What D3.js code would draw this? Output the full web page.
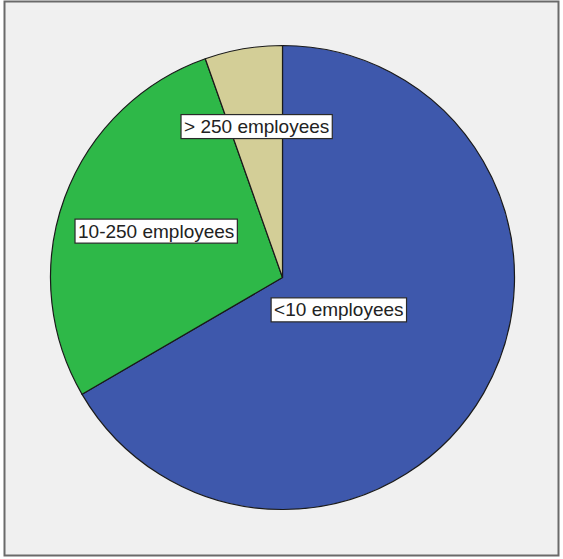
<!DOCTYPE html>
<html>
<head>
<meta charset="utf-8">
<script src="https://cdn.jsdelivr.net/npm/d3@7"></script>
<style>
  html, body { margin: 0; padding: 0; background: #ffffff; }
  svg { display: block; }
</style>
</head>
<body>
<svg id="chart" width="563" height="559"></svg>
<script>
// ---- data ----
const categories = ["<10 employees", "10-250 employees", "> 250 employees"];
const values = [66.6, 28.0, 5.4];
const colors = ["#3E58AC", "#2EB848", "#D3CE97"];

// ---- layout ----
const W = 563, H = 559;
const cx = 282.5, cy = 277.5, R = 232;
const labelRadiusFactor = [0.28, 0.58, 0.66];

const svg = d3.select("#chart");

// background & frame
svg.append("rect").attr("x", 0).attr("y", 0).attr("width", W).attr("height", H).attr("fill", "#ffffff");
svg.append("rect")
  .attr("x", 4.5).attr("y", 1.5).attr("width", 554).attr("height", 554)
  .attr("fill", "#F0F0F0").attr("stroke", "#6a6a6a").attr("stroke-width", 2);

const data = categories.map((c, i) => ({ cat: c, value: values[i], color: colors[i], i }));

const pie = d3.pie().sort(null).value(d => d.value);
const arcs = pie(data);
const arc = d3.arc().innerRadius(0).outerRadius(R);

const g = svg.append("g").attr("transform", `translate(${cx},${cy})`);

g.selectAll("path.slice")
  .data(arcs)
  .join("path")
  .attr("class", "slice")
  .attr("d", arc)
  .attr("fill", d => d.data.color)
  .attr("stroke", "#1a1a1a")
  .attr("stroke-width", 1.2)
  .attr("stroke-linejoin", "round");

// labels
const lg = g.selectAll("g.lbl")
  .data(arcs)
  .join("g")
  .attr("class", "lbl")
  .attr("transform", d => {
    const r = R * labelRadiusFactor[d.data.i];
    const c = d3.arc().innerRadius(r).outerRadius(r).centroid(d);
    return `translate(${c[0]},${c[1]})`;
  });

lg.each(function(d) {
  const sel = d3.select(this);
  const rect = sel.append("rect");
  const t = sel.append("text")
    .attr("x", 0).attr("y", 0)
    .attr("text-anchor", "middle")
    .attr("dominant-baseline", "central")
    .attr("font-family", "'Liberation Sans', Arial, sans-serif")
    .attr("font-size", 19)
    .attr("fill", "#222")
    .text(d.data.cat);
  const w = t.node().getComputedTextLength();
  const bw = w + 6, bh = 24;
  rect.attr("x", -bw / 2).attr("y", -bh / 2)
    .attr("width", bw).attr("height", bh)
    .attr("fill", "#ffffff")
    .attr("stroke", "#2a2a2a")
    .attr("stroke-width", 1.2);
});
</script>
</body>
</html>
